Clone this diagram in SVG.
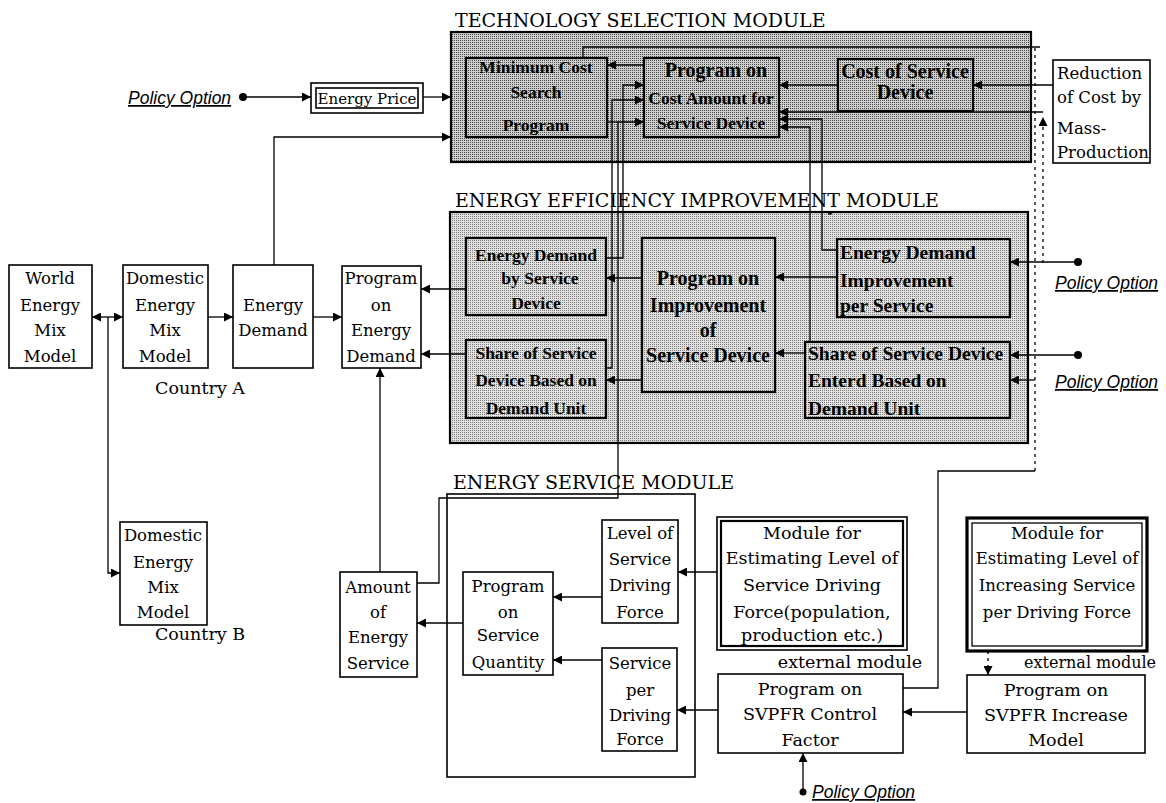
<svg xmlns="http://www.w3.org/2000/svg" width="1166" height="803" viewBox="0 0 1166 803">
<style>
.box{fill:#fff;stroke:#000;stroke-width:1.6}
.sb1{fill:url(#p1);stroke:#000;stroke-width:2.2}
.sb2{fill:url(#p2);stroke:#000;stroke-width:2.2}
.t{font-family:"DejaVu Serif",serif;font-size:16.5px;fill:#000;text-anchor:middle}
.tl{font-family:"DejaVu Serif",serif;font-size:16.5px;fill:#000}
.tx{font-family:"DejaVu Serif",serif;font-size:17.5px;fill:#000;text-anchor:middle}
.tb{font-family:"Liberation Serif",serif;font-weight:bold;font-size:17.5px;fill:#000;text-anchor:middle}
.tb2{font-family:"Liberation Serif",serif;font-weight:bold;font-size:20px;fill:#000;text-anchor:middle}
.tbl{font-family:"Liberation Serif",serif;font-weight:bold;font-size:19.5px;fill:#000}
.title{font-family:"DejaVu Serif",serif;font-size:19px;fill:#000}
.po{font-family:"Liberation Sans",sans-serif;font-style:italic;font-size:17.5px;fill:#000;text-decoration:underline}
.c{fill:none;stroke:#000;stroke-width:1.3}
.d{stroke-dasharray:3 4}
</style>
<defs>
<pattern id="p1" width="2" height="2" patternUnits="userSpaceOnUse"><rect width="2" height="2" fill="#cfcfcf"/><rect width="1" height="1" fill="#4a4a4a"/></pattern>
<pattern id="p2" width="2" height="2" patternUnits="userSpaceOnUse"><rect width="2" height="2" fill="#e2e2e2"/><rect width="1" height="1" fill="#7a7a7a"/></pattern>
<marker id="a" viewBox="0 0 10 10" refX="10" refY="5" markerWidth="9" markerHeight="9" markerUnits="userSpaceOnUse" orient="auto-start-reverse"><path d="M0,0 L10,5 L0,10 z" fill="#000"/></marker>
</defs>
<rect width="1166" height="803" fill="#fff"/>

<!-- Module containers -->
<g id="tsm-module">
<text class="title" x="455" y="27">TECHNOLOGY SELECTION MODULE</text>
<rect class="sb1" x="451" y="32" width="580" height="130"/>
</g>
<g id="eei-module">
<text class="title" x="455" y="207">ENERGY EFFICIENCY IMPROVEMENT MODULE</text>
<rect class="sb2" x="450" y="212" width="578" height="231"/>
</g>
<g id="es-module">
<text class="title" x="453" y="489">ENERGY SERVICE MODULE</text>
<rect x="447" y="494" width="248" height="283" fill="none" stroke="#000" stroke-width="1.6"/>
</g>

<!-- Nodes -->
<g id="world-mix"><rect class="box" x="9" y="265" width="83" height="103"/>
<text class="t" x="50" y="284">World</text><text class="t" x="50" y="311">Energy</text><text class="t" x="50" y="336">Mix</text><text class="t" x="50" y="362">Model</text></g>
<g id="domestic-a"><rect class="box" x="123" y="265" width="85" height="103"/>
<text class="t" x="165" y="284">Domestic</text><text class="t" x="165" y="311">Energy</text><text class="t" x="165" y="336">Mix</text><text class="t" x="165" y="362">Model</text>
<text class="tx" x="200" y="394">Country A</text></g>
<g id="domestic-b"><rect class="box" x="120" y="522" width="87" height="103"/>
<text class="t" x="163" y="541">Domestic</text><text class="t" x="163" y="568">Energy</text><text class="t" x="163" y="593">Mix</text><text class="t" x="163" y="618">Model</text>
<text class="tx" x="200" y="640">Country B</text></g>
<g id="energy-demand"><rect class="box" x="233" y="265" width="80" height="103"/>
<text class="t" x="273" y="311">Energy</text><text class="t" x="273" y="336">Demand</text></g>
<g id="program-energy-demand"><rect class="box" x="342" y="266" width="79" height="102"/>
<text class="t" x="381" y="284">Program</text><text class="t" x="381" y="311">on</text><text class="t" x="381" y="336">Energy</text><text class="t" x="381" y="362">Demand</text></g>

<g id="policy-top"><text class="po" x="128" y="104">Policy Option</text></g>
<g id="energy-price"><rect class="box" x="311" y="83" width="112" height="30"/><rect class="box" x="316" y="88" width="102" height="20"/>
<text class="t" x="367" y="104" style="font-size:15px">Energy Price</text></g>

<g id="min-cost"><rect class="sb1" x="466" y="58" width="141" height="79"/>
<text class="tb" x="536" y="73">Minimum Cost</text><text class="tb" x="536" y="98">Search</text><text class="tb" x="536" y="131">Program</text></g>
<g id="cost-amount"><rect class="sb1" x="644" y="58" width="135" height="79"/>
<text class="tb2" x="716" y="77">Program on</text><text class="tb" x="711" y="104">Cost Amount for</text><text class="tb" x="711" y="129">Service Device</text></g>
<g id="cost-service-device"><rect class="sb1" x="838" y="59" width="135" height="52"/>
<text class="tb2" x="905" y="78">Cost of Service</text><text class="tb2" x="905" y="99">Device</text></g>
<g id="mass-production"><rect class="box" x="1053" y="60" width="97" height="103"/>
<text class="tl" x="1057" y="79">Reduction</text><text class="tl" x="1057" y="103">of Cost by</text><text class="tl" x="1057" y="134">Mass-</text><text class="tl" x="1057" y="158">Production</text></g>

<g id="ed-service-device"><rect class="sb2" x="466" y="238" width="140" height="77"/>
<text class="tb" x="536" y="261">Energy Demand</text><text class="tb" x="540" y="284">by Service</text><text class="tb" x="536" y="309">Device</text></g>
<g id="share-device"><rect class="sb2" x="466" y="340" width="140" height="78"/>
<text class="tb" x="536" y="359">Share of Service</text><text class="tb" x="536" y="386">Device Based on</text><text class="tb" x="536" y="414">Demand Unit</text></g>
<g id="program-improvement"><rect class="sb2" x="642" y="238" width="133" height="154"/>
<text class="tb2" x="708" y="285">Program on</text><text class="tb2" x="708" y="312">Improvement</text><text class="tb2" x="708" y="337">of</text><text class="tb2" x="708" y="362">Service Device</text></g>
<g id="ed-improvement"><rect class="sb2" x="837" y="239" width="173" height="78"/>
<text class="tbl" x="840" y="259">Energy Demand</text><text class="tbl" x="840" y="287">Improvement</text><text class="tbl" x="840" y="312">per Service</text></g>
<g id="share-entered"><rect class="sb2" x="805" y="342" width="205" height="76"/>
<text class="tbl" x="808" y="360">Share of Service Device</text><text class="tbl" x="808" y="387">Enterd Based on</text><text class="tbl" x="808" y="415">Demand Unit</text></g>
<g id="policy-eei-1"><text class="po" x="1055" y="289">Policy Option</text></g>
<g id="policy-eei-2"><text class="po" x="1055" y="388">Policy Option</text></g>

<g id="amount-service"><rect class="box" x="340" y="572" width="77" height="105"/>
<text class="t" x="378" y="593">Amount</text><text class="t" x="378" y="618">of</text><text class="t" x="378" y="643">Energy</text><text class="t" x="378" y="669">Service</text></g>
<g id="program-service-quantity"><rect class="box" x="463" y="572" width="90" height="103"/>
<text class="t" x="508" y="592">Program</text><text class="t" x="508" y="618">on</text><text class="t" x="508" y="641">Service</text><text class="t" x="508" y="668">Quantity</text></g>
<g id="level-driving-force"><rect class="box" x="602" y="520" width="76" height="103"/>
<text class="t" x="640" y="539">Level of</text><text class="t" x="640" y="565">Service</text><text class="t" x="640" y="591">Driving</text><text class="t" x="640" y="618">Force</text></g>
<g id="service-per-driving-force"><rect class="box" x="602" y="648" width="75" height="103"/>
<text class="t" x="640" y="669">Service</text><text class="t" x="640" y="696">per</text><text class="t" x="640" y="721">Driving</text><text class="t" x="640" y="745">Force</text></g>
<g id="module-driving-force"><rect class="box" x="717" y="517" width="190" height="133"/><rect x="721" y="521" width="182" height="125" fill="none" stroke="#000" stroke-width="2.2"/>
<text class="tx" x="812" y="539">Module for</text><text class="tx" x="812" y="564">Estimating Level of</text><text class="tx" x="812" y="591">Service Driving</text><text class="tx" x="812" y="618">Force(population,</text><text class="tx" x="812" y="641">production etc.)</text>
<text class="tx" x="850" y="668">external module</text></g>
<g id="module-increasing"><rect x="967" y="518" width="180" height="133" fill="#fff" stroke="#000" stroke-width="3.2"/><rect x="972" y="523" width="170" height="123" fill="none" stroke="#000" stroke-width="1.3"/>
<text class="t" x="1057" y="539">Module for</text><text class="t" x="1057" y="564">Estimating Level of</text><text class="t" x="1057" y="591">Increasing Service</text><text class="t" x="1057" y="618">per Driving Force</text>
<text class="tl" x="1024" y="668" style="font-size:16px">external module</text></g>
<g id="svpfr-control"><rect class="box" x="718" y="674" width="185" height="79"/>
<text class="tx" x="810" y="695">Program on</text><text class="tx" x="810" y="720">SVPFR Control</text><text class="tx" x="810" y="746">Factor</text></g>
<g id="svpfr-increase"><rect class="box" x="967" y="675" width="178" height="78"/>
<text class="tx" x="1056" y="696">Program on</text><text class="tx" x="1056" y="721">SVPFR Increase</text><text class="tx" x="1056" y="746">Model</text></g>
<g id="policy-bottom"><text class="po" x="812" y="798">Policy Option</text></g>

<!-- Connectors -->
<g id="connectors">
<circle cx="243" cy="97" r="4" fill="#000"/>
<path class="c" d="M243,97 H311" marker-end="url(#a)"/>
<path class="c" d="M423,97 H451" marker-end="url(#a)"/>
<path class="c" d="M274,265 V137 H451" marker-end="url(#a)"/>
<path class="c" d="M92,317 H123" marker-start="url(#a)" marker-end="url(#a)"/>
<path class="c" d="M108,317 V573 H120" marker-end="url(#a)"/>
<path class="c" d="M208,317 H233" marker-end="url(#a)"/>
<path class="c" d="M313,317 H342" marker-end="url(#a)"/>
<path class="c" d="M466,289 H421" marker-end="url(#a)"/>
<path class="c" d="M466,354 H421" marker-end="url(#a)"/>
<path class="c" d="M380,572 V368" marker-end="url(#a)"/>
<path class="c" d="M463,623 H417" marker-end="url(#a)"/>
<path class="c" d="M602,597 H553" marker-end="url(#a)"/>
<path class="c" d="M602,660 H553" marker-end="url(#a)"/>
<path class="c" d="M717,572 H678" marker-end="url(#a)"/>
<path class="c" d="M718,710 H677" marker-end="url(#a)"/>
<path class="c" d="M967,712 H903" marker-end="url(#a)"/>
<path class="c d" d="M988,651 V675" marker-end="url(#a)"/>
<circle cx="803" cy="792" r="3.5" fill="#000"/>
<path class="c" d="M803,792 V753" marker-end="url(#a)"/>
<path class="c" d="M903,688 H938 V471 H1035"/>
<path class="c d" d="M1035,471 V47"/>
<path class="c" d="M1040,47 H583 V58"/>
<path class="c" d="M417,583 H439 V498 H618 V122 H644" marker-end="url(#a)"/>
<path class="c" d="M607,122 H618"/>
<path class="c" d="M606,368 H612 V100 H644" marker-end="url(#a)"/>
<path class="c" d="M606,258 H623 V85 H644" marker-end="url(#a)"/>
<path class="c" d="M644,65 H607" marker-end="url(#a)"/>
<path class="c" d="M838,85 H779" marker-end="url(#a)"/>
<path class="c" d="M1053,85 H973" marker-end="url(#a)"/>
<path class="c d" d="M1043,263 V117" marker-end="url(#a)"/>
<path class="c" d="M1043,112 H779" marker-end="url(#a)"/>
<path class="c" d="M837,250 H822 V119 H779" marker-end="url(#a)"/>
<path class="c" d="M810,342 V127 H779" marker-end="url(#a)"/>
<circle cx="830" cy="213" r="2" fill="#000"/>
<path class="c" d="M642,278 H606" marker-end="url(#a)"/>
<path class="c" d="M642,380 H606" marker-end="url(#a)"/>
<path class="c" d="M837,277 H775" marker-end="url(#a)"/>
<path class="c" d="M805,353 H775" marker-end="url(#a)"/>
<circle cx="1078" cy="262" r="4" fill="#000"/>
<path class="c" d="M1078,262 H1010" marker-end="url(#a)"/>
<circle cx="1078" cy="355" r="4" fill="#000"/>
<path class="c" d="M1078,355 H1010" marker-end="url(#a)"/>
<path class="c" d="M1035,380 H1010" marker-end="url(#a)"/>
</g>
</svg>
